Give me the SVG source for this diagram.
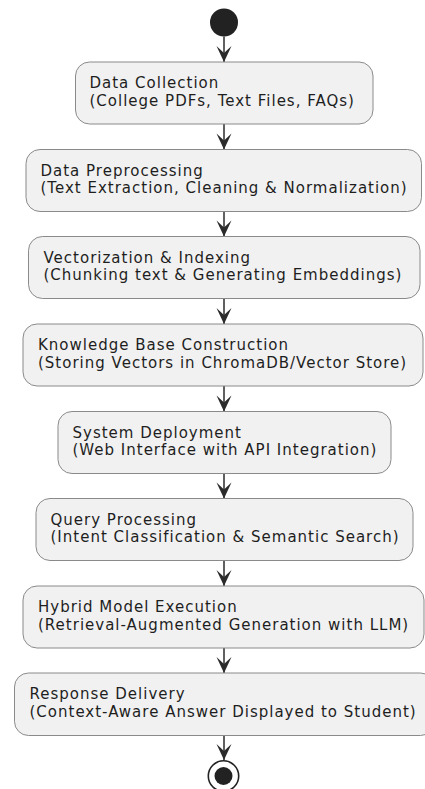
<svg xmlns="http://www.w3.org/2000/svg" width="425" height="789" viewBox="0 0 425 789">
  <defs>
    <style>
      .box { fill: #f1f1f1; stroke: #8a8a8a; stroke-width: 1; }
      .lbl { font-family: "DejaVu Sans", "Liberation Sans", sans-serif; font-size: 15px; letter-spacing: 1px; fill: #1e1e1e; }
      .edge { stroke: #2b2b2b; stroke-width: 1.5; fill: none; }
      .head { fill: #2b2b2b; stroke: none; }
    </style>
  </defs>
  <rect width="425" height="789" fill="#ffffff"/>

  <!-- start marker -->
  <g id="start">
    <circle cx="224" cy="22.5" r="14" fill="#222222"/>
  </g>

  <!-- flow arrows: shaft + notched head -->
  <g id="connectors">
    <line class="edge" x1="224" y1="36.5" x2="224" y2="62"/>
    <line class="edge" x1="224" y1="124" x2="224" y2="149.5"/>
    <line class="edge" x1="224" y1="211.5" x2="224" y2="236.5"/>
    <line class="edge" x1="224" y1="298.5" x2="224" y2="324"/>
    <line class="edge" x1="224" y1="386" x2="224" y2="411.5"/>
    <line class="edge" x1="224" y1="473.5" x2="224" y2="498.5"/>
    <line class="edge" x1="224" y1="560.5" x2="224" y2="586"/>
    <line class="edge" x1="224" y1="648" x2="224" y2="673"/>
    <line class="edge" x1="224" y1="735.5" x2="224" y2="760"/>
    <path class="head" d="M224 62 L216.5 46 L224 53 L231.5 46 Z"/>
    <path class="head" d="M224 149.5 L216.5 133.5 L224 140.5 L231.5 133.5 Z"/>
    <path class="head" d="M224 236.5 L216.5 220.5 L224 227.5 L231.5 220.5 Z"/>
    <path class="head" d="M224 324 L216.5 308 L224 315 L231.5 308 Z"/>
    <path class="head" d="M224 411.5 L216.5 395.5 L224 402.5 L231.5 395.5 Z"/>
    <path class="head" d="M224 498.5 L216.5 482.5 L224 489.5 L231.5 482.5 Z"/>
    <path class="head" d="M224 586 L216.5 570 L224 577 L231.5 570 Z"/>
    <path class="head" d="M224 673 L216.5 657 L224 664 L231.5 657 Z"/>
    <path class="head" d="M224 760 L216.5 744 L224 751 L231.5 744 Z"/>
  </g>

  <g id="n1">
    <rect class="box" x="75.5" y="62" width="297.5" height="62" rx="14"/>
    <text class="lbl" x="89.5" y="87.7">Data Collection</text>
    <text class="lbl" x="89.5" y="105.5">(College PDFs, Text Files, FAQs)</text>
  </g>
  <g id="n2">
    <rect class="box" x="26" y="149.5" width="395.5" height="62" rx="14"/>
    <text class="lbl" x="40.5" y="175.5">Data Preprocessing</text>
    <text class="lbl" x="40.5" y="193.3">(Text Extraction, Cleaning &amp; Normalization)</text>
  </g>
  <g id="n3">
    <rect class="box" x="28.5" y="236.5" width="391.5" height="62" rx="14"/>
    <text class="lbl" x="43.5" y="262.5">Vectorization &amp; Indexing</text>
    <text class="lbl" x="43.5" y="280.3">(Chunking text &amp; Generating Embeddings)</text>
  </g>
  <g id="n4">
    <rect class="box" x="23" y="324" width="400" height="62" rx="14"/>
    <text class="lbl" x="38" y="350">Knowledge Base Construction</text>
    <text class="lbl" x="38" y="367.8">(Storing Vectors in ChromaDB/Vector Store)</text>
  </g>
  <g id="n5">
    <rect class="box" x="58" y="411.5" width="333" height="62" rx="14"/>
    <text class="lbl" x="72.5" y="437.5">System Deployment</text>
    <text class="lbl" x="72.5" y="455.3">(Web Interface with API Integration)</text>
  </g>
  <g id="n6">
    <rect class="box" x="36" y="498.5" width="377" height="62" rx="14"/>
    <text class="lbl" x="50.5" y="524.5">Query Processing</text>
    <text class="lbl" x="50.5" y="542.3">(Intent Classification &amp; Semantic Search)</text>
  </g>
  <g id="n7">
    <rect class="box" x="23" y="586" width="401" height="62" rx="14"/>
    <text class="lbl" x="38" y="612">Hybrid Model Execution</text>
    <text class="lbl" x="38" y="629.8">(Retrieval-Augmented Generation with LLM)</text>
  </g>
  <g id="n8">
    <rect class="box" x="14.5" y="673" width="420" height="62.5" rx="14"/>
    <text class="lbl" x="29.5" y="699">Response Delivery</text>
    <text class="lbl" x="29.5" y="716.8">(Context-Aware Answer Displayed to Student)</text>
  </g>

  <!-- end marker -->
  <g id="end">
    <circle cx="223.5" cy="776" r="15.2" fill="#ffffff" stroke="#222222" stroke-width="1.6"/>
    <circle cx="223.5" cy="776" r="9" fill="#222222"/>
  </g>
</svg>
